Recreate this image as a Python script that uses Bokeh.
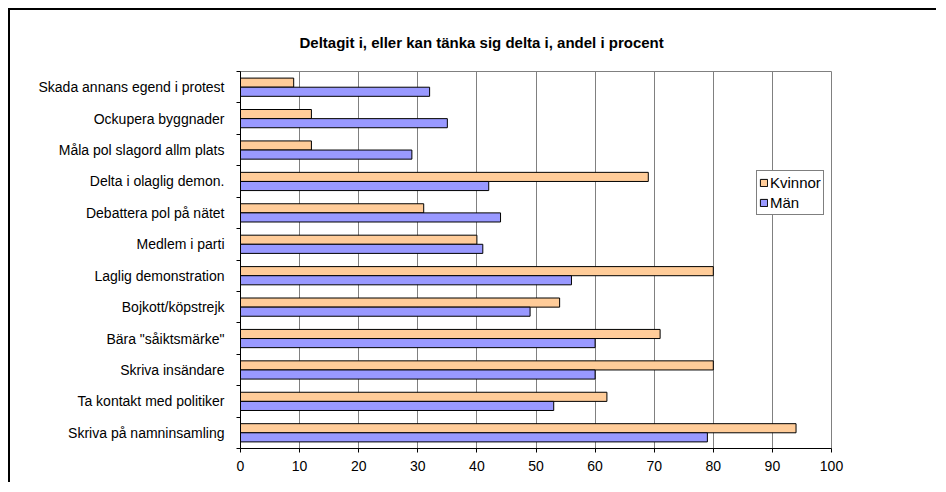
import numpy as np
from bokeh.plotting import figure
from bokeh.models import (ColumnDataSource, Range1d, FixedTicker, Legend, LegendItem)
from bokeh.transform import dodge
from bokeh.embed import file_html
from bokeh.resources import INLINE

# Data (top to bottom as in the chart)
categories = ["Skada annans egend i protest", "Ockupera byggnader", "Måla pol slagord allm plats",
              "Delta i olaglig demon.", "Debattera pol på nätet", "Medlem i parti",
              "Laglig demonstration", "Bojkott/köpstrejk", "Bära \"såiktsmärke\"",
              "Skriva insändare", "Ta kontakt med politiker", "Skriva på namninsamling"]
kvinnor = [9, 12, 12, 69, 31, 40, 80, 54, 71, 80, 62, 94]
man = [32, 35, 29, 42, 44, 41, 56, 49, 60, 60, 53, 79]
x_ticks = [0, 10, 20, 30, 40, 50, 60, 70, 80, 90, 100]
title_text = "Deltagit i, eller kan tänka sig delta i, andel i procent"

n = len(categories)
pos = [n - i - 0.5 for i in range(n)]
src = ColumnDataSource(dict(pos=pos, cat=categories, k=kvinnor, m=man))

FONT = "Liberation Sans"
W, H = 928, 474
p = figure(width=W, height=H, output_backend="svg", toolbar_location=None,
           x_range=Range1d(0, 100), y_range=Range1d(0, n),
           min_border_left=230, min_border_right=107, min_border_top=61, min_border_bottom=36)
p.styles = {"margin-left": "8px", "margin-top": "8px",
            "border-left": "2px solid black", "border-top": "2px solid black"}
p.background_fill_color = "white"
p.border_fill_color = "white"
p.outline_line_color = "#808080"
p.outline_line_width = 1

# title centred over the whole chart area (frame is offset to the right)
p.title.text = title_text
p.title.align = "left"
p.title.vertical_align = "middle"
p.title.offset = 59
p.title.standoff = 40
p.title.text_font = FONT
p.title.text_font_size = "15px"
p.title.text_font_style = "bold"
p.title.text_color = "black"

bh = 0.29
rk = p.hbar(y=dodge("pos", bh / 2, range=p.y_range), right="k", left=0, height=bh, source=src,
            fill_color="#FFCC99", line_color="black", line_width=1)
rm = p.hbar(y=dodge("pos", -bh / 2, range=p.y_range), right="m", left=0, height=bh, source=src,
            fill_color="#9999FF", line_color="black", line_width=1)

# x axis
p.xaxis.ticker = FixedTicker(ticks=x_ticks)
p.xaxis.axis_line_color = "black"
p.xaxis.major_tick_line_color = "black"
p.xaxis.major_tick_in = 0
p.xaxis.major_tick_out = 4
p.xaxis.minor_tick_line_color = None
p.xaxis.major_label_text_font = FONT
p.xaxis.major_label_text_font_size = "14px"
p.xaxis.major_label_text_color = "black"
p.xaxis.major_label_standoff = 8

# y axis: labels at category centres, ticks at boundaries
p.yaxis.ticker = FixedTicker(ticks=pos, minor_ticks=list(range(n + 1)))
p.yaxis.major_label_overrides = {pp: c for pp, c in zip(pos, categories)}
p.yaxis.axis_line_color = "black"
p.yaxis.major_tick_line_color = None
p.yaxis.minor_tick_line_color = "black"
p.yaxis.minor_tick_in = 0
p.yaxis.minor_tick_out = 4
p.yaxis.major_label_text_font = FONT
p.yaxis.major_label_text_font_size = "14px"
p.yaxis.major_label_text_color = "black"
p.yaxis.major_label_standoff = 10

p.xgrid.ticker = FixedTicker(ticks=x_ticks)
p.xgrid.grid_line_color = "#808080"
p.xgrid.grid_line_width = 1
p.ygrid.grid_line_color = None

legend = Legend(items=[LegendItem(label="Kvinnor", renderers=[rk]),
                       LegendItem(label="Män", renderers=[rm])],
                location=(516, 233))
legend.label_text_font = FONT
legend.label_text_font_size = "15px"
legend.label_text_color = "black"
legend.glyph_width = 9
legend.glyph_height = 9
legend.label_standoff = 2
legend.label_height = 19
legend.spacing = 1
legend.padding = 2
legend.margin = 0
legend.border_line_color = "black"
legend.border_line_width = 1
legend.background_fill_alpha = 1
p.add_layout(legend, "center")

open("out.html", "w").write(file_html(p, INLINE))
